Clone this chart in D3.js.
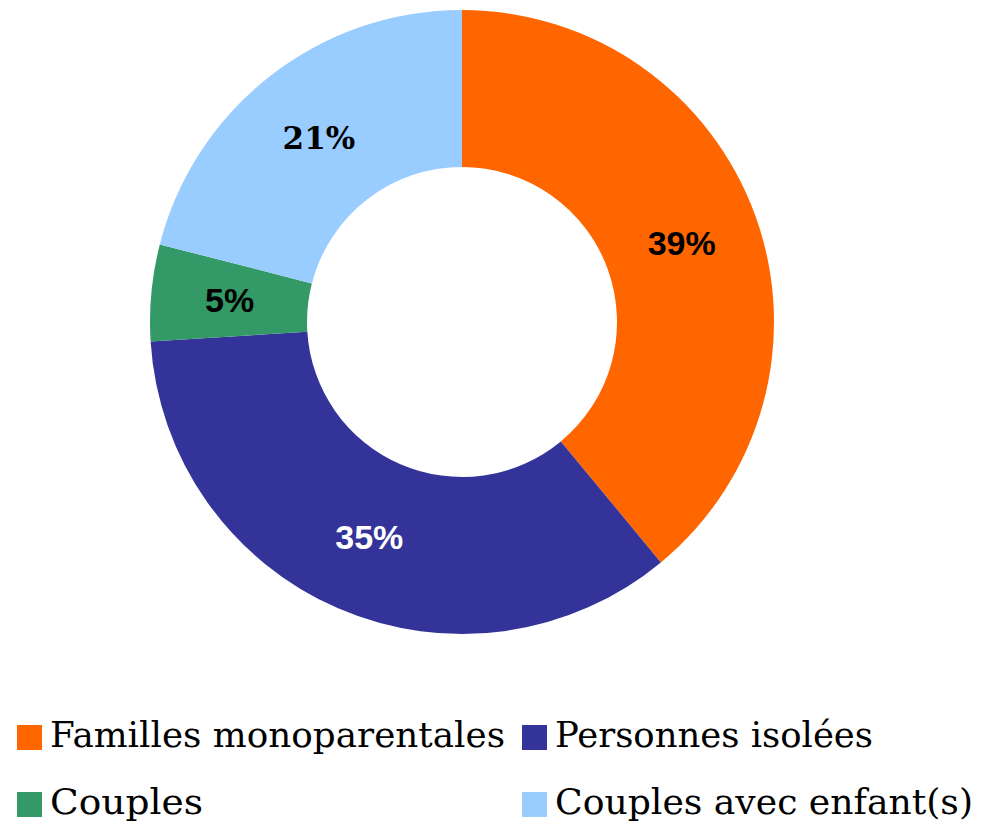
<!DOCTYPE html>
<html>
<head>
<meta charset="utf-8">
<script src="https://cdn.jsdelivr.net/npm/d3@7"></script>
<style>
  html, body { margin: 0; padding: 0; background: #ffffff; }
  svg { display: block; }
</style>
</head>
<body>
<svg id="chart" width="981" height="824"></svg>
<script>
// Household types, in drawing order (clockwise from 12 o'clock)
const categories = ["Familles monoparentales", "Personnes isolées", "Couples", "Couples avec enfant(s)"];
const values = [39, 35, 5, 21];
const colors = ["#FF6600", "#333399", "#339966", "#99CCFF"];
const labelColors = ["#000000", "#ffffff", "#000000", "#000000"];
const labelFonts = ["Liberation Sans, Arial, sans-serif", "Liberation Sans, Arial, sans-serif",
                    "Liberation Sans, Arial, sans-serif", "DejaVu Serif, serif"];

const svg = d3.select("#chart");
const cx = 462, cy = 322, outerR = 312, innerR = 155;

const pie = d3.pie().sort(null).value(d => d.value);
const arcs = pie(categories.map((c, i) => ({ name: c, value: values[i], i })));
const arc = d3.arc().innerRadius(innerR).outerRadius(outerR);

const g = svg.append("g").attr("transform", `translate(${cx},${cy})`);

g.selectAll("path.slice")
  .data(arcs)
  .join("path")
  .attr("class", "slice")
  .attr("d", arc)
  .attr("fill", d => colors[d.data.i]);

g.selectAll("text.pct")
  .data(arcs)
  .join("text")
  .attr("class", "pct")
  .attr("transform", d => `translate(${arc.centroid(d)})`)
  .attr("text-anchor", "middle")
  .attr("dy", "0.36em")
  .attr("font-family", d => labelFonts[d.data.i])
  .attr("font-weight", "bold")
  .attr("font-size", d => d.data.i === 3 ? 31 : 34)
  .attr("fill", d => labelColors[d.data.i])
  .text(d => d.data.value + "%");

// Legend: two columns, two rows
const legendPos = [[17, 725, 455], [522, 725, 318], [17, 792, 153], [522, 792, 418]];
const legend = svg.append("g").attr("class", "legend");
categories.forEach((c, i) => {
  const [x, y, w] = legendPos[i];
  legend.append("rect")
    .attr("x", x).attr("y", y)
    .attr("width", 25).attr("height", 25)
    .attr("fill", colors[i]);
  legend.append("text")
    .attr("x", x + 33).attr("y", y + 22)
    .attr("font-family", "DejaVu Serif, serif")
    .attr("font-size", 36)
    .attr("textLength", w)
    .attr("lengthAdjust", "spacingAndGlyphs")
    .attr("fill", "#000")
    .text(c);
});
</script>
</body>
</html>
